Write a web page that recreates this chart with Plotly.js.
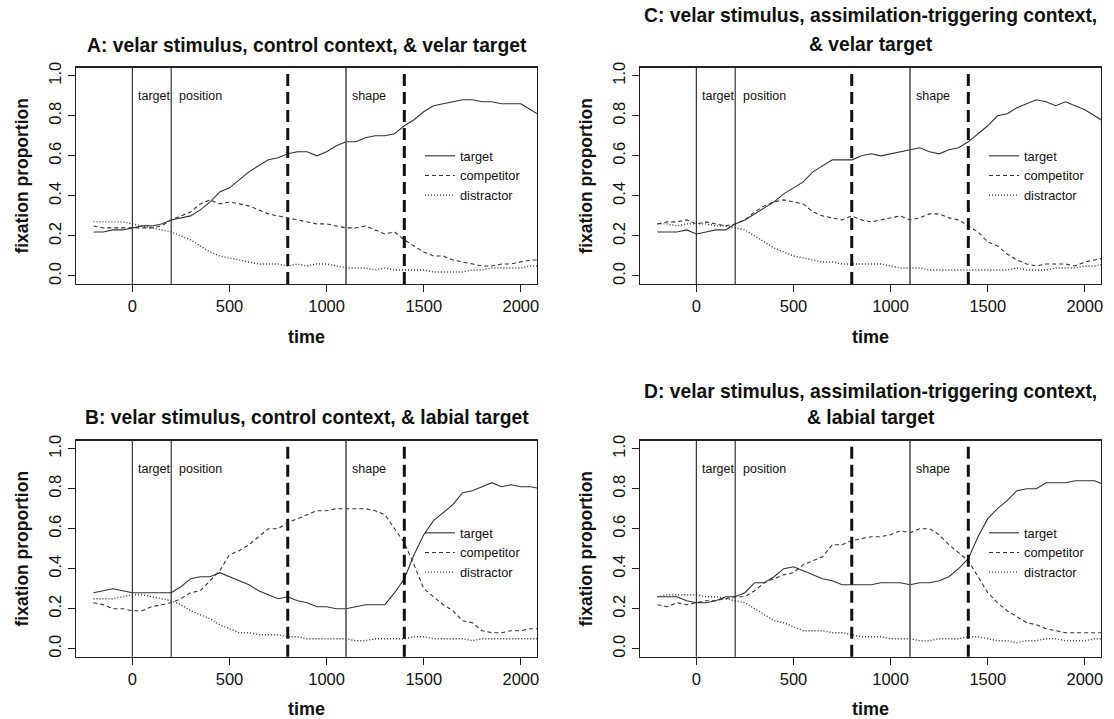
<!DOCTYPE html>
<html>
<head>
<meta charset="utf-8">
<script src="https://cdn.plot.ly/plotly-3.0.1.min.js"></script>
<style>html,body{margin:0;padding:0;background:#fff;}#chart{width:1114px;height:719px;}</style>
</head>
<body>
<div id="chart"></div>
<script>
// time (ms) from -200 to 2100 in 50 ms steps
const time = [-200,-150,-100,-50,0,50,100,150,200,250,300,350,400,450,500,550,600,650,700,750,800,850,900,950,1000,1050,1100,1150,1200,1250,1300,1350,1400,1450,1500,1550,1600,1650,1700,1750,1800,1850,1900,1950,2000,2050,2100];

const seriesNames = ["target", "competitor", "distractor"];

// Panel A: velar stimulus, control context, & velar target
const A_target     = [0.22,0.22,0.23,0.23,0.24,0.25,0.25,0.26,0.28,0.29,0.30,0.33,0.37,0.42,0.44,0.48,0.52,0.55,0.58,0.59,0.61,0.62,0.62,0.60,0.62,0.65,0.67,0.67,0.69,0.70,0.70,0.71,0.75,0.78,0.82,0.85,0.86,0.87,0.88,0.88,0.87,0.87,0.86,0.86,0.86,0.83,0.80];
const A_competitor = [0.25,0.24,0.24,0.24,0.24,0.24,0.24,0.25,0.28,0.30,0.32,0.36,0.38,0.36,0.37,0.36,0.35,0.33,0.31,0.30,0.29,0.28,0.27,0.26,0.26,0.25,0.24,0.24,0.25,0.23,0.21,0.22,0.18,0.15,0.12,0.10,0.10,0.08,0.07,0.06,0.05,0.05,0.06,0.06,0.07,0.08,0.08];
const A_distractor = [0.27,0.27,0.27,0.27,0.26,0.25,0.24,0.23,0.22,0.20,0.18,0.15,0.12,0.10,0.09,0.08,0.07,0.06,0.06,0.06,0.05,0.06,0.05,0.06,0.06,0.05,0.04,0.04,0.04,0.03,0.04,0.03,0.03,0.03,0.03,0.02,0.02,0.02,0.02,0.03,0.03,0.04,0.04,0.04,0.04,0.05,0.05];

// Panel B: velar stimulus, control context, & labial target
const B_target     = [0.28,0.29,0.30,0.29,0.28,0.28,0.28,0.28,0.28,0.31,0.35,0.36,0.36,0.38,0.36,0.34,0.32,0.29,0.27,0.25,0.26,0.24,0.23,0.21,0.21,0.20,0.20,0.21,0.22,0.22,0.22,0.28,0.35,0.47,0.57,0.64,0.68,0.72,0.78,0.79,0.81,0.83,0.81,0.82,0.81,0.81,0.80];
const B_competitor = [0.23,0.22,0.20,0.20,0.19,0.19,0.21,0.22,0.23,0.25,0.28,0.29,0.34,0.39,0.47,0.49,0.52,0.56,0.60,0.60,0.63,0.65,0.67,0.69,0.69,0.70,0.70,0.70,0.70,0.69,0.67,0.60,0.53,0.42,0.30,0.26,0.22,0.19,0.14,0.13,0.09,0.08,0.08,0.09,0.09,0.10,0.10];
const B_distractor = [0.25,0.25,0.25,0.26,0.27,0.27,0.26,0.25,0.24,0.22,0.19,0.17,0.15,0.12,0.10,0.08,0.08,0.07,0.07,0.07,0.06,0.06,0.05,0.05,0.05,0.05,0.05,0.04,0.04,0.05,0.05,0.05,0.05,0.06,0.06,0.05,0.05,0.05,0.05,0.04,0.05,0.05,0.05,0.05,0.05,0.05,0.05];

// Panel C: velar stimulus, assimilation-triggering context, & velar target
const C_target     = [0.22,0.22,0.22,0.23,0.21,0.22,0.23,0.23,0.26,0.28,0.31,0.34,0.37,0.41,0.44,0.47,0.52,0.55,0.58,0.58,0.58,0.60,0.61,0.60,0.61,0.62,0.63,0.64,0.62,0.61,0.63,0.64,0.67,0.71,0.75,0.80,0.81,0.84,0.86,0.88,0.87,0.85,0.87,0.85,0.83,0.80,0.77];
const C_competitor = [0.26,0.27,0.27,0.28,0.26,0.27,0.26,0.25,0.26,0.28,0.32,0.35,0.37,0.38,0.37,0.36,0.32,0.30,0.29,0.28,0.30,0.28,0.27,0.28,0.29,0.30,0.28,0.29,0.31,0.31,0.29,0.28,0.25,0.22,0.17,0.15,0.11,0.08,0.06,0.05,0.06,0.06,0.06,0.05,0.07,0.08,0.09];
const C_distractor = [0.26,0.26,0.25,0.26,0.26,0.26,0.25,0.25,0.24,0.23,0.20,0.17,0.14,0.12,0.10,0.09,0.08,0.07,0.07,0.06,0.06,0.06,0.06,0.06,0.05,0.04,0.04,0.04,0.03,0.03,0.03,0.03,0.03,0.03,0.03,0.03,0.03,0.04,0.03,0.03,0.03,0.04,0.04,0.04,0.05,0.05,0.06];

// Panel D: velar stimulus, assimilation-triggering context, & labial target
const D_target     = [0.26,0.26,0.26,0.24,0.23,0.23,0.24,0.26,0.26,0.28,0.33,0.33,0.36,0.40,0.41,0.39,0.37,0.35,0.34,0.32,0.32,0.32,0.32,0.33,0.33,0.33,0.32,0.33,0.33,0.34,0.36,0.40,0.45,0.56,0.65,0.70,0.74,0.79,0.80,0.80,0.83,0.83,0.83,0.84,0.84,0.84,0.82];
const D_competitor = [0.22,0.21,0.23,0.22,0.23,0.24,0.24,0.25,0.26,0.26,0.29,0.33,0.35,0.37,0.38,0.42,0.44,0.46,0.52,0.52,0.54,0.55,0.56,0.56,0.57,0.59,0.58,0.60,0.60,0.57,0.52,0.48,0.44,0.36,0.28,0.23,0.19,0.16,0.13,0.12,0.10,0.09,0.08,0.08,0.08,0.08,0.08];
const D_distractor = [0.26,0.27,0.27,0.27,0.27,0.26,0.26,0.25,0.24,0.23,0.20,0.17,0.14,0.13,0.11,0.09,0.09,0.09,0.08,0.08,0.07,0.06,0.06,0.06,0.05,0.05,0.05,0.04,0.04,0.05,0.05,0.05,0.06,0.06,0.05,0.04,0.04,0.03,0.04,0.04,0.05,0.05,0.04,0.04,0.04,0.05,0.05];

const panelTitleLines = [
  ["A: velar stimulus, control context, & velar target"],
  ["B: velar stimulus, control context, & labial target"],
  ["C: velar stimulus, assimilation-triggering context,", "& velar target"],
  ["D: velar stimulus, assimilation-triggering context,", "& labial target"]
];
const xTickVals = [0, 500, 1000, 1500, 2000];
const yTickVals = [0.0, 0.2, 0.4, 0.6, 0.8, 1.0];
const solidMarkers = [0, 200, 1100];
const dashedMarkers = [800, 1400];
const regionLabels = ["target", "position", "shape"];
const regionLabelX = [19, 228, 1118];

const panels = [
  {data: [A_target, A_competitor, A_distractor], xa: "x",  ya: "y",  legend: "legend"},
  {data: [B_target, B_competitor, B_distractor], xa: "x2", ya: "y2", legend: "legend2"},
  {data: [C_target, C_competitor, C_distractor], xa: "x3", ya: "y3", legend: "legend3"},
  {data: [D_target, D_competitor, D_distractor], xa: "x4", ya: "y4", legend: "legend4"}
];

const dashes = ["solid", "4px,3px", "1px,2px"];
const lineColor = "#333";
const traces = [];
panels.forEach(p => {
  p.data.forEach((vals, i) => {
    traces.push({
      x: time, y: vals, xaxis: p.xa, yaxis: p.ya, type: "scatter", mode: "lines",
      name: seriesNames[i], legend: p.legend,
      line: {color: lineColor, width: i === 2 ? 1.4 : 1.1, dash: dashes[i]},
      hoverinfo: "x+y+name"
    });
  });
});

const W = 1114, H = 719;
const colX = [[76/W, 537/W], [640/W, 1101/W]];
const rowY = [[1 - 284/H, 1 - 67.7/H], [1 - 656.7/H, 1 - 440.7/H]];
const font = "Liberation Sans, Arial, sans-serif";

function xAxis(dom, anchor) {
  return {domain: dom, anchor: anchor, range: [-290, 2083], tickvals: xTickVals,
    ticks: "outside", ticklen: 7, tickcolor: "#222", showline: true, mirror: true,
    linecolor: "#222", linewidth: 1.3, showgrid: false, zeroline: false,
    tickfont: {family: font, size: 16.5, color: "#111"},
    title: {text: "<b>time</b>", font: {family: font, size: 18, color: "#111"}, standoff: 16},
    automargin: false};
}
function yAxis(dom, anchor) {
  return {domain: dom, anchor: anchor, range: [-0.04, 1.04], tickvals: yTickVals,
    tickformat: ".1f", tickangle: -90,
    ticks: "outside", ticklen: 7, tickcolor: "#222", showline: true, mirror: true,
    linecolor: "#222", linewidth: 1.3, showgrid: false, zeroline: false,
    tickfont: {family: font, size: 16.5, color: "#111"},
    title: {text: "<b>fixation proportion</b>", font: {family: font, size: 17.5, color: "#111"}, standoff: 13},
    automargin: false};
}

const layout = {
  width: W, height: H, margin: {l: 0, r: 0, t: 0, b: 0},
  paper_bgcolor: "#fff", plot_bgcolor: "#fff",
  font: {family: font, color: "#111"},
  xaxis:  xAxis(colX[0], "y"),  yaxis:  yAxis(rowY[0], "x"),
  xaxis2: xAxis(colX[0], "y2"), yaxis2: yAxis(rowY[1], "x2"),
  xaxis3: xAxis(colX[1], "y3"), yaxis3: yAxis(rowY[0], "x3"),
  xaxis4: xAxis(colX[1], "y4"), yaxis4: yAxis(rowY[1], "x4"),
  shapes: [], annotations: [], showlegend: true
};

const legendPos = [[420/W, 1 - 141/H], [420/W, 1 - 518/H], [984/W, 1 - 141/H], [984/W, 1 - 518/H]];
["legend", "legend2", "legend3", "legend4"].forEach((k, i) => {
  layout[k] = {x: legendPos[i][0], y: legendPos[i][1], xanchor: "left", yanchor: "top",
    bgcolor: "rgba(0,0,0,0)", borderwidth: 0, itemwidth: 30, tracegroupgap: 0,
    font: {family: font, size: 12.8, color: "#111"}};
});

panels.forEach(p => {
  solidMarkers.forEach(v => {
    layout.shapes.push({type: "line", xref: p.xa, yref: p.ya + " domain", x0: v, x1: v, y0: 0, y1: 1,
      line: {color: v === 1100 ? "#555" : "#222", width: v === 1100 ? 1.6 : 1.1}});
  });
  dashedMarkers.forEach(v => {
    layout.shapes.push({type: "line", xref: p.xa, yref: p.ya + " domain", x0: v, x1: v, y0: 0, y1: 1,
      line: {color: "#111", width: 3, dash: "12px,6px"}});
  });
  regionLabels.forEach((t, i) => {
    layout.annotations.push({text: t, xref: p.xa, yref: p.ya, x: regionLabelX[i], y: 0.9,
      xanchor: "left", yanchor: "middle", showarrow: false,
      font: {family: font, size: 12.5, color: "#111"}});
  });
});

// panel titles (one annotation per line)
const titleX = [306.5, 306.5, 870.5, 870.5];
const titleY = [[45], [417], [16, 44], [391, 417]];
panelTitleLines.forEach((lines, i) => {
  lines.forEach((t, j) => {
    layout.annotations.push({text: "<b>" + t + "</b>", xref: "paper", yref: "paper",
      x: titleX[i] / W, y: 1 - titleY[i][j] / H, xanchor: "center", yanchor: "middle", showarrow: false,
      font: {family: font, size: 19.3, color: "#111"}});
  });
});

Plotly.newPlot("chart", traces, layout, {displayModeBar: false, staticPlot: true});
</script>
</body>
</html>
